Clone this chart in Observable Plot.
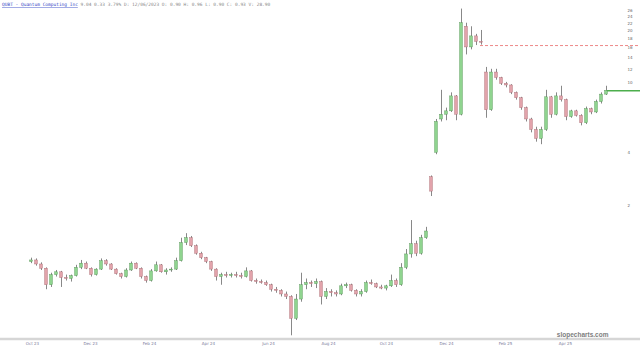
<!DOCTYPE html>
<html><head><meta charset="utf-8">
<script src="https://cdn.jsdelivr.net/npm/d3@7"></script>
<script src="https://cdn.jsdelivr.net/npm/@observablehq/plot@0.6"></script>
<style>body{margin:0;background:#fff;} #chart{width:640px;height:349px;overflow:hidden}</style>
</head><body><div id="chart"></div>
<script>
// Candles (each about 3-4 sessions)
const opens = [.95,.97,.92,.87,.70,.80,.83,.77,.76,.79,.88,.93,.87,.80,.86,.96,.92,.86,.81,.78,
.85,.93,.87,.78,.74,.84,.91,.83,.85,.86,.96,1.22,1.30,1.17,1.06,1.00,.95,.86,.78,.80,
.79,.80,.79,.78,.84,.74,.73,.72,.70,.66,.65,.62,.60,.45,.58,.70,.72,.71,.73,.60,
.64,.63,.62,.69,.70,.65,.62,.64,.72,.71,.68,.67,.69,.74,.70,.88,1.05,1.20,1.06,1.30,
2.90,4.00,6.20,6.60,6.90,8.40,6.60,21.0,16.0,18.5,17.2,11.5,7.00,11.5,10.7,9.90,9.70,8.80,8.20,7.20,
6.20,5.40,4.80,5.40,8.30,6.60,8.40,8.00,6.40,6.90,6.50,5.90,7.10,6.80,7.80,8.60];
const highs = [1.00,.99,.94,.88,.82,.85,.84,.80,.80,.91,.97,.95,.88,.87,.99,.98,.93,.87,.82,.87,
.95,.94,.88,.79,.86,.95,.92,.87,.88,1.00,1.30,1.38,1.33,1.19,1.08,1.01,.96,.87,.82,.83,
.82,.83,.82,.88,.85,.76,.75,.74,.71,.68,.66,.64,.61,.62,.82,.76,.74,.76,.74,.67,
.66,.65,.71,.72,.71,.66,.66,.74,.75,.72,.70,.70,.80,.76,.93,1.12,1.64,1.25,1.35,1.50,
2.95,6.20,9.10,7.20,8.80,8.50,26.5,22.0,21.0,19.0,20.0,12.3,12.0,12.0,10.8,10.1,9.80,8.90,8.30,7.30,
6.30,5.60,5.60,9.10,8.40,8.80,9.60,8.10,7.00,7.00,6.60,7.30,7.20,8.00,8.80,9.60];
const lows = [.93,.90,.85,.66,.68,.78,.68,.74,.73,.78,.86,.86,.78,.79,.85,.90,.85,.80,.76,.77,
.84,.86,.76,.72,.73,.83,.82,.80,.83,.85,.95,1.18,1.15,1.04,.98,.93,.84,.74,.70,.77,
.77,.77,.76,.77,.73,.71,.71,.69,.64,.63,.60,.58,.36,.44,.56,.66,.68,.67,.54,.58,
.60,.60,.61,.67,.64,.60,.60,.63,.70,.67,.66,.65,.68,.68,.69,.86,1.00,1.02,1.04,1.28,
2.25,3.90,6.00,6.10,6.80,6.10,6.50,14.5,15.5,16.4,16.5,6.30,6.90,10.4,9.70,9.40,8.60,8.00,7.00,6.00,
5.20,4.60,4.45,5.30,6.30,6.50,7.80,6.10,6.30,6.40,5.70,5.80,6.60,6.70,7.60,8.50];
const closes = [.97,.92,.87,.70,.80,.83,.77,.76,.79,.88,.93,.87,.80,.86,.96,.92,.86,.81,.78,.85,
.93,.87,.78,.74,.84,.91,.83,.85,.86,.96,1.22,1.30,1.17,1.06,1.00,.95,.86,.78,.80,.79,
.80,.79,.78,.84,.74,.73,.72,.70,.66,.65,.62,.60,.45,.58,.70,.72,.71,.73,.60,.64,
.63,.62,.69,.70,.65,.62,.64,.72,.71,.68,.67,.69,.74,.70,.88,1.05,1.20,1.06,1.30,1.42,
2.40,6.00,6.60,6.90,8.40,6.60,22.0,16.0,18.5,17.2,17.0,7.00,11.5,10.7,9.90,9.70,8.80,8.20,7.20,6.20,
5.40,4.80,5.40,8.30,6.60,8.40,8.00,6.40,6.90,6.50,5.90,7.10,6.80,7.80,8.60,9.04];

const tickLabels = ["Oct 23","Dec 23","Feb 24","Apr 24","Jun 24","Aug 24","Oct 24","Dec 24","Feb 25","Apr 25"];
const tickIdx = [0.2, 11.8, 23.6, 35.4, 47.4, 59.4, 71, 83, 94.8, 106.8];
const priceTicks = [2,4,6,8,10,12,14,16,18,20,22,24,26];
const alertLevel = 16.4, alertFrom = 89.8;
const titleName = "QUBT - Quantum Computing Inc";
const titleStats = " 9.04 0.33 3.79% D: 12/06/2023 O: 0.90 H: 0.96 L: 0.90 C: 0.93 V: 28.90";

const data = closes.map((c, i) => ({i, open: opens[i], high: highs[i], low: lows[i], close: c}));
const lastClose = closes[closes.length - 1];
const xDomain = [-6.2, 121.8];
const yDomain = [0.352, 28.9];
const labelMap = new Map(tickIdx.map((t, k) => [t, tickLabels[k]]));

const plot = Plot.plot({
  width: 640, height: 349,
  marginTop: 2, marginBottom: 12, marginLeft: 0, marginRight: 0,
  x: {type: "linear", domain: xDomain, axis: null, label: null},
  y: {type: "log", domain: yDomain, axis: null, label: null},
  style: {background: "#fff", fontFamily: "DejaVu Sans", overflow: "visible"},
  marks: [
    Plot.ruleY([yDomain[0]], {stroke: "#d6d6d6", strokeWidth: 2.5, dy: 1.5}),
    Plot.ruleY([alertLevel], {x1: alertFrom, x2: xDomain[1], stroke: "#e86a6a", strokeDasharray: "3,2", strokeWidth: 0.8}),
    Plot.ruleY([lastClose], {x1: data.length - 1, x2: xDomain[1], stroke: "#4cae4c", strokeWidth: 1.5}),
    Plot.ruleX(data, {x: "i", y1: "low", y2: "high", stroke: "#555", strokeWidth: 0.7}),
    Plot.rect(data, {
      x1: d => d.i - 0.28, x2: d => d.i + 0.28, y1: "open", y2: "close",
      fill: d => d.close >= d.open ? "#8fd48f" : "#e2a3ab",
      stroke: d => d.close >= d.open ? "#4d8f4d" : "#a5646c", strokeWidth: 0.4
    }),
    Plot.axisX({ticks: tickIdx, tickFormat: d => labelMap.get(d), tickSize: 0, tickPadding: 5, fontSize: 4, color: "#7a7a9a", label: null}),
    Plot.axisY({anchor: "right", ticks: priceTicks, tickFormat: d => String(d), tickSize: 0, tickPadding: 0, dx: -13, fontSize: 4, color: "#666", label: null}),
    Plot.text(["slopecharts.com"], {frameAnchor: "bottom-right", dx: -32, dy: -1, fontSize: 6.5, fontWeight: "bold", fill: "#7d7d7d", fontFamily: "Liberation Sans"})
  ]
});

const svg = d3.select(plot);
const t = svg.append("text").attr("x", 2).attr("y", 6).attr("text-anchor", "start")
  .style("font-family", "DejaVu Sans Mono").style("font-size", "4.5px");
t.append("tspan").attr("fill", "#3347c4").attr("text-decoration", "underline").text(titleName);
t.append("tspan").attr("fill", "#8a8a8a").attr("xml:space", "preserve").text(titleStats);

document.getElementById("chart").appendChild(plot);
</script>
</body></html>
